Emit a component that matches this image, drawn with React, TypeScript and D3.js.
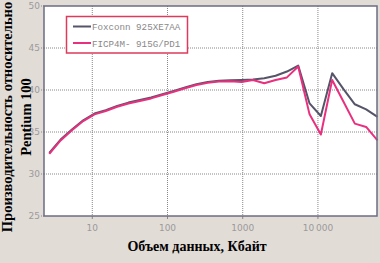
import React from "react";
import * as d3 from "d3";

const sizes = [2.68, 3.79, 5.36, 7.57, 10.7, 15.1, 21.4, 30.2, 42.8, 60.5, 85.5, 121, 171, 242, 342, 484, 684, 967, 1368, 1934, 2736, 3870, 5470, 7740, 10940, 15470, 21880, 30950, 43770, 61900];
const foxconn = [32.5, 34.1, 35.3, 36.4, 37.2, 37.6, 38.1, 38.5, 38.8, 39.1, 39.5, 39.9, 40.3, 40.7, 40.95, 41.1, 41.15, 41.2, 41.25, 41.4, 41.7, 42.2, 42.9, 38.4, 36.9, 42.0, 40.1, 38.3, 37.7, 36.8];
const ficp = [32.4, 34.0, 35.2, 36.3, 37.1, 37.5, 38.0, 38.4, 38.7, 39.0, 39.4, 39.8, 40.2, 40.6, 40.85, 41.0, 41.05, 40.95, 41.2, 40.8, 41.2, 41.5, 42.8, 37.1, 34.7, 41.2, 38.6, 36.0, 35.6, 34.0];
const yTicks = [25, 30, 35, 40, 45, 50];
const xTicks = [10, 100, 1000, 10000];
const xTickLabels = ["10", "100", "1000", "10\u2009000"];
const seriesNames = ["Foxconn 925XE7AA", "FICP4M- 915G/PD1"];
const seriesColors = ["#555468", "#e8307f"];

export default function App() {
  const W = 380, H = 263;
  const left = 44, right = 377, top = 6, bottom = 216;
  const x = d3.scaleLog().domain([2.28, 61000]).range([left, right]);
  const y = d3.scaleLinear().domain([25, 50]).range([bottom, top]);
  const line = d3.line<number>().x((_, i) => x(sizes[i])).y((d) => y(d));
  const data = [foxconn, ficp];
  return (
    <svg width={W} height={H} style={{ position: "absolute", left: 0, top: 0, background: "#e2dcd7" }}>
      <rect x={0} y={0} width={W} height={H} fill="#e2dcd7" />
      <rect x={left} y={top} width={right - left} height={bottom - top} fill="#ffffff" />
      {yTicks.slice(1, -1).map((t) => (
        <line key={"gy" + t} x1={left} x2={right} y1={y(t)} y2={y(t)} stroke="#888" strokeWidth={1} strokeDasharray="1,1" />
      ))}
      {xTicks.map((t) => (
        <line key={"gx" + t} x1={x(t)} x2={x(t)} y1={top} y2={bottom} stroke="#888" strokeWidth={1} strokeDasharray="1,1" />
      ))}
      {yTicks.map((t) => (
        <g key={"ty" + t}>
          <line x1={left - 3} x2={left} y1={y(t)} y2={y(t)} stroke="#888" strokeWidth={1} strokeDasharray="1,1" />
          <text x={left - 4} y={y(t) + 3} fontSize={9} fill="#9a9a9a" textAnchor="end" fontFamily="DejaVu Sans">{t}</text>
        </g>
      ))}
      {xTicks.map((t, i) => (
        <g key={"tx" + t}>
          <line x1={x(t)} x2={x(t)} y1={bottom} y2={bottom + 3} stroke="#888" strokeWidth={1} />
          <text x={x(t)} y={bottom + 15} fontSize={9} fill="#9a9a9a" textAnchor="middle" fontFamily="DejaVu Sans">{xTickLabels[i]}</text>
        </g>
      ))}
      {data.map((s, i) => (
        <path key={"s" + i} d={line(s) || ""} fill="none" stroke={seriesColors[i]} strokeWidth={2} strokeLinejoin="round" />
      ))}
      <rect x={left} y={top} width={right - left} height={bottom - top} fill="none" stroke="#6e6c84" strokeWidth={1.5} />
      <rect x={66.5} y={16.5} width={121} height={36.5} fill="#ffffff" stroke="#dd3a5c" strokeWidth={1.5} />
      {seriesNames.map((n, i) => (
        <g key={"lg" + i}>
          <line x1={73} x2={91} y1={26.5 + i * 16.5} y2={26.5 + i * 16.5} stroke={seriesColors[i]} strokeWidth={2} />
          <text x={92} y={30 + i * 16.5} fontSize={9.2} fill="#888" fontFamily="Liberation Mono">{n}</text>
        </g>
      ))}
      <text x={197} y={251} fontSize={14} fontWeight="bold" fontFamily="Liberation Serif" textAnchor="middle" fill="#000">Объем данных, Кбайт</text>
      <g transform="translate(12,117) rotate(-90)">
        <text x={0} y={0} fontSize={14.5} fontWeight="bold" fontFamily="Liberation Serif" textAnchor="middle" fill="#000">Производительность относительно</text>
        <text x={0} y={18.5} fontSize={14.5} fontWeight="bold" fontFamily="Liberation Serif" textAnchor="middle" fill="#000">Pentium 100</text>
      </g>
    </svg>
  );
}
